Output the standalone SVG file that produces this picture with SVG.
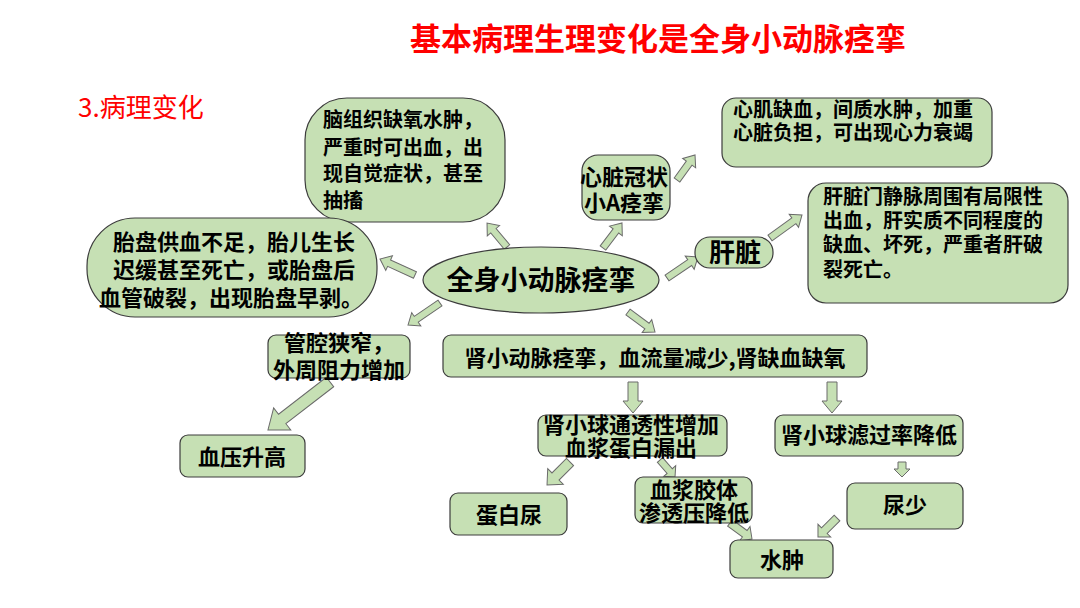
<svg xmlns="http://www.w3.org/2000/svg" width="1080" height="608" viewBox="0 0 1080 608">
<style>
.n{fill:#c6e0b4;stroke:#3c3c3c;stroke-width:1.2}
.a{fill:#c6e0b4;stroke:#6a6a6a;stroke-width:1}
.t{font-family:"Noto Sans CJK SC","Noto Sans",sans-serif;font-weight:bold;fill:#000}
.c{text-anchor:middle}
.red{font-family:"Noto Sans CJK SC","Noto Sans",sans-serif;fill:#ff0000}
</style>
<rect width="1080" height="608" fill="#fff"/>
<text class="red" x="658" y="50" font-size="31" font-weight="bold" text-anchor="middle">基本病理生理变化是全身小动脉痉挛</text>
<text class="red" x="78" y="117" font-size="26">3.病理变化</text>

<g id="connectors">
<path class="a" transform="translate(507,247) rotate(-129.8)" d="M0,-3.5H21.2V-8L31.2,0L21.2,8V3.5H0Z"/>
<path class="a" transform="translate(415,275) rotate(-155.4)" d="M0,-3.5H28.5V-8L38.5,0L28.5,8V3.5H0Z"/>
<path class="a" transform="translate(603,248) rotate(-52.8)" d="M0,-3.5H21.4V-8L31.4,0L21.4,8V3.5H0Z"/>
<path class="a" transform="translate(677,180) rotate(-54.2)" d="M0,-3.5H20.8V-8L30.8,0L20.8,8V3.5H0Z"/>
<path class="a" transform="translate(667,278) rotate(-34.1)" d="M0,-3.5H27.4V-8L37.4,0L27.4,8V3.5H0Z"/>
<path class="a" transform="translate(770,238) rotate(-35.7)" d="M0,-3.5H29.4V-8L39.4,0L29.4,8V3.5H0Z"/>
<path class="a" transform="translate(628,312) rotate(36.5)" d="M0,-3.5H23.6V-8L33.6,0L23.6,8V3.5H0Z"/>
<path class="a" transform="translate(440,303) rotate(145.5)" d="M0,-3.5H28.8V-8L38.8,0L28.8,8V3.5H0Z"/>
<path class="a" transform="translate(330,382) rotate(142.3)" d="M0,-6H60.4V-14L78.4,0L60.4,14V6H0Z"/>
<path class="a" transform="translate(633,382) rotate(90)" d="M0,-5H19V-10L31,0L19,10V5H0Z"/>
<path class="a" transform="translate(832,382) rotate(90)" d="M0,-5H19V-10L31,0L19,10V5H0Z"/>
<path class="a" transform="translate(570,462) rotate(135)" d="M0,-5H20.5V-11L32.5,0L20.5,11V5H0Z"/>
<path class="a" transform="translate(660,460) rotate(48.6)" d="M0,-3.5H14.7V-8L22.7,0L14.7,8V3.5H0Z"/>
<path class="a" transform="translate(902,462) rotate(90)" d="M0,-4H7V-8L15,0L7,8V4H0Z"/>
<path class="a" transform="translate(837,518) rotate(135)" d="M0,-4H17.9V-9L26.9,0L17.9,9V4H0Z"/>
<path class="a" transform="translate(730,523) rotate(36)" d="M0,-4H18.2V-9L27.2,0L18.2,9V4H0Z"/>
</g>

<g id="center">
<ellipse class="n" cx="541" cy="280" rx="118" ry="33"/>
<text class="t c" x="541" y="290" font-size="27">全身小动脉痉挛</text>
</g>

<g id="brain">
<rect class="n" x="305" y="98" width="200" height="124" rx="42" ry="42"/>
<text class="t" font-size="20"><tspan x="323" y="127">脑组织缺氧水肿，</tspan><tspan x="323" y="155">严重时可出血，出</tspan><tspan x="323" y="181">现自觉症状，甚至</tspan><tspan x="323" y="208">抽搐</tspan></text>
</g>

<g id="placenta">
<rect class="n" x="87" y="218" width="290" height="99" rx="48" ry="48"/>
<text class="t c" font-size="22"><tspan x="234" y="250">胎盘供血不足，胎儿生长</tspan><tspan x="234" y="278">迟缓甚至死亡，或胎盘后</tspan><tspan x="231" y="306">血管破裂，出现胎盘早剥。</tspan></text>
</g>

<g id="coronary">
<rect class="n" x="582" y="155" width="88" height="65" rx="16" ry="16"/>
<text class="t c" font-size="22"><tspan x="624" y="185">心脏冠状</tspan><tspan x="624" y="211">小A痉挛</tspan></text>
</g>

<g id="heart">
<rect class="n" x="722" y="98" width="270" height="69" rx="14" ry="14"/>
<text class="t" font-size="20"><tspan x="733" y="117">心肌缺血，间质水肿，加重</tspan><tspan x="733" y="140">心脏负担，可出现心力衰竭</tspan></text>
</g>

<g id="liver">
<rect class="n" x="695" y="237" width="78" height="31" rx="15" ry="15"/>
<text class="t c" x="735" y="262" font-size="26">肝脏</text>
</g>

<g id="liver-outcome">
<rect class="n" x="808" y="183" width="260" height="120" rx="18" ry="18"/>
<text class="t" font-size="20"><tspan x="823" y="204">肝脏门静脉周围有局限性</tspan><tspan x="823" y="228">出血，肝实质不同程度的</tspan><tspan x="823" y="252">缺血、坏死，严重者肝破</tspan><tspan x="823" y="277">裂死亡。</tspan></text>
</g>

<g id="tube">
<rect class="n" x="268" y="335" width="142" height="43" rx="8" ry="8"/>
<text class="t c" font-size="22"><tspan x="339" y="351">管腔狭窄，</tspan><tspan x="339" y="378">外周阻力增加</tspan></text>
</g>

<g id="bp">
<rect class="n" x="180" y="435" width="125" height="42" rx="8" ry="8"/>
<text class="t c" x="242" y="465" font-size="22">血压升高</text>
</g>

<g id="kidney">
<rect class="n" x="443" y="335" width="424" height="42" rx="8" ry="8"/>
<text class="t c" x="655" y="366" font-size="22">肾小动脉痉挛，血流量减少,肾缺血缺氧</text>
</g>

<g id="permeability">
<rect class="n" x="538" y="415" width="189" height="41" rx="8" ry="8"/>
<text class="t c" font-size="22"><tspan x="631" y="433">肾小球通透性增加</tspan><tspan x="631" y="456">血浆蛋白漏出</tspan></text>
</g>

<g id="gfr">
<rect class="n" x="775" y="415" width="188" height="41" rx="8" ry="8"/>
<text class="t c" x="869" y="443" font-size="22">肾小球滤过率降低</text>
</g>

<g id="proteinuria">
<rect class="n" x="450" y="493" width="117" height="42" rx="8" ry="8"/>
<text class="t c" x="509" y="523" font-size="22">蛋白尿</text>
</g>

<g id="colloid">
<rect class="n" x="635" y="477" width="117" height="46" rx="8" ry="8"/>
<text class="t c" font-size="22"><tspan x="694" y="498">血浆胶体</tspan><tspan x="694" y="521">渗透压降低</tspan></text>
</g>

<g id="oliguria">
<rect class="n" x="847" y="483" width="116" height="46" rx="8" ry="8"/>
<text class="t c" x="905" y="513" font-size="22">尿少</text>
</g>

<g id="edema">
<rect class="n" x="730" y="540" width="103" height="38" rx="8" ry="8"/>
<text class="t c" x="782" y="568" font-size="22">水肿</text>
</g>
</svg>
